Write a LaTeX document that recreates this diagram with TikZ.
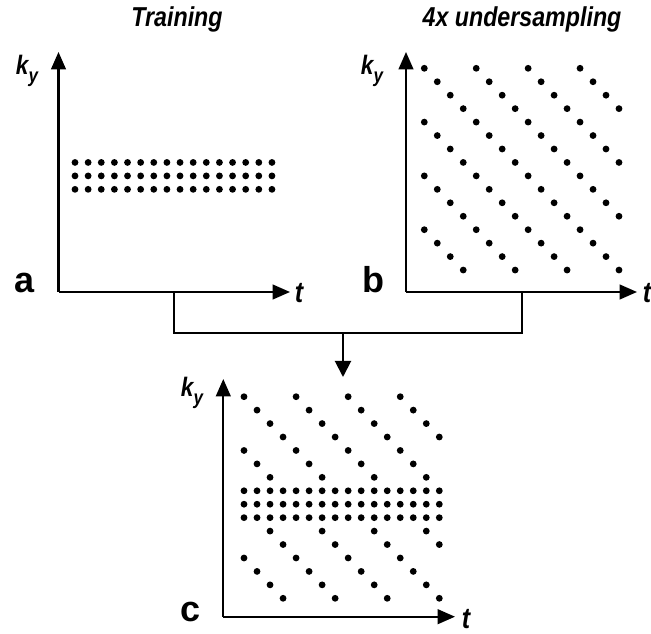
\documentclass[tikz,border=0pt]{standalone}
\usepackage{fontspec}
\setmainfont{Liberation Sans}
\newfontfamily\narrowfont[FakeStretch=0.85]{Liberation Sans}
\usetikzlibrary{arrows.meta}
\tikzset{
  axis/.style={line width=1.6pt, -{Triangle[length=13pt,width=11pt]}},
  link/.style={line width=1.5pt},
  linkarrow/.style={line width=1.5pt, -{Triangle[length=12pt,width=12pt]}},
  dot/.style={fill=black},
  title/.style={font=\narrowfont\bfseries\itshape\fontsize{20.5}{24}\selectfont},
  kylabel/.style={font=\narrowfont\bfseries\itshape\fontsize{20}{22}\selectfont, inner sep=0pt},
  tlabel/.style={font=\narrowfont\bfseries\itshape\fontsize{22}{24}\selectfont, inner sep=0pt},
  panel/.style={font=\bfseries\fontsize{27}{30}\selectfont, inner sep=0pt},
}
\newcommand{\kyname}{k\raisebox{-6pt}{\fontsize{15}{15}\selectfont y}}
\begin{document}
\begin{tikzpicture}[x=0.75pt,y=-0.75pt]
\useasboundingbox (0,0) rectangle (651,634);
% titles
\node[title] (ttrain) at (177,19) {Training};
\node[title] (tunder) at (522,19) {4x undersampling};
% ---------- panel a ----------
\coordinate (Oa) at (58.5,292);
\coordinate (Ya) at (58.5,52);
\coordinate (Xa) at (290,292);
\draw[axis] (Oa) -- (Ya);
\draw[axis] (Oa) -- (Xa);
\node[kylabel] (kya) at (27,71) {\kyname};
\node[tlabel] (ta) at (299,293) {t};
\node[panel] (la) at (25,283) {a};
\foreach \r in {7,8,9}
  \foreach \c in {0,...,15}
    \fill[dot] ({75+13.13*\c},{68.3+13.45*\r}) circle (3.4);
% ---------- panel b ----------
\coordinate (Ob) at (406,292);
\coordinate (Yb) at (406,52);
\coordinate (Xb) at (637,292);
\draw[axis] (Ob) -- (Yb);
\draw[axis] (Ob) -- (Xb);
\node[kylabel] (kyb) at (372,71) {\kyname};
\node[tlabel] (tb) at (647,293) {t};
\node[panel] (lb) at (373,280) {b};
\foreach \r in {0,...,15}
  \foreach \c in {0,...,15}{
    \pgfmathtruncatemacro{\m}{mod(\c-\r+16,4)}
    \ifnum\m=0
      \fill[dot] ({424.3+12.98*\c},{68.3+13.45*\r}) circle (3.4);
    \fi
  }
% ---------- connector ----------
\coordinate (Ja) at (174,292);
\coordinate (Jb) at (522,292);
\coordinate (Ja2) at (174,333);
\coordinate (Jb2) at (522,333);
\coordinate (Jm) at (343,333);
\coordinate (Jc) at (343,377);
\draw[link] (Ja) -- (Ja2) -- (Jb2) -- (Jb);
\draw[linkarrow] (Jm) -- (Jc);
% ---------- panel c ----------
\coordinate (Oc) at (223.3,616.7);
\coordinate (Yc) at (223.3,379);
\coordinate (Xc) at (455,616.7);
\draw[axis] (Oc) -- (Yc);
\draw[axis] (Oc) -- (Xc);
\node[kylabel] (kyc) at (192,393) {\kyname};
\node[tlabel] (tc) at (466,619) {t};
\node[panel] (lc) at (191,612) {c};
\foreach \r in {0,...,15}
  \foreach \c in {0,...,15}{
    \pgfmathtruncatemacro{\m}{mod(\c-\r+16,4)}
    \pgfmathtruncatemacro{\full}{(\r>6)&&(\r<10)}
    \ifnum\full=1
      \fill[dot] ({244+13.02*\c},{396.7+13.44*\r}) circle (3.4);
    \else
      \ifnum\m=0
        \fill[dot] ({244+13.02*\c},{396.7+13.44*\r}) circle (3.4);
      \fi
    \fi
  }
\end{tikzpicture}
\end{document}
